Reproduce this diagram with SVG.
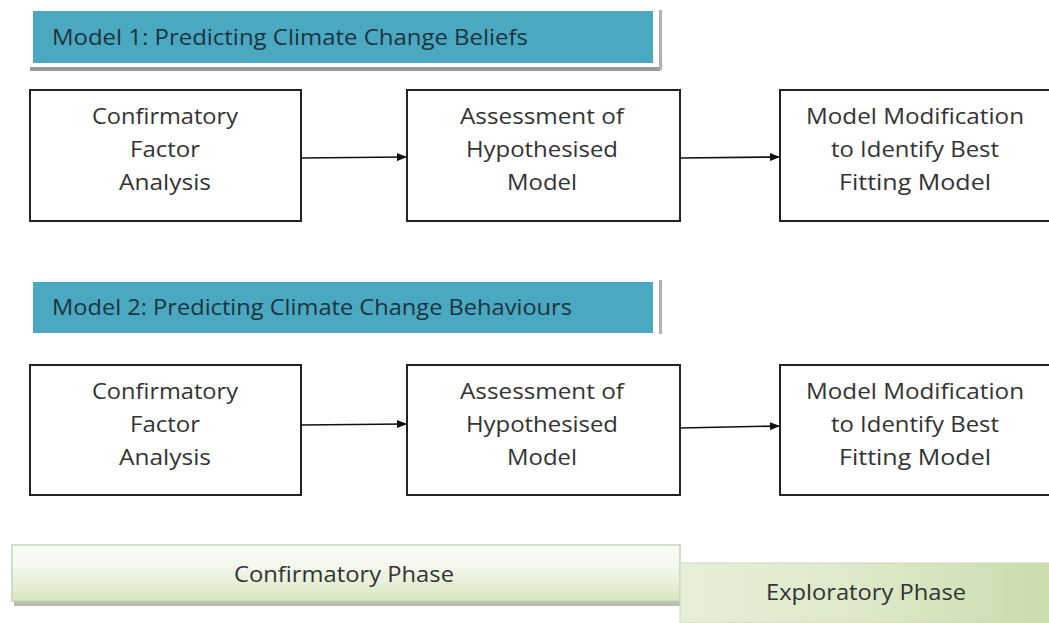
<svg xmlns="http://www.w3.org/2000/svg" width="1049" height="623" viewBox="0 0 1049 623">
<defs>
<style>
.t{font-family:"Open Sans","Liberation Sans",sans-serif;font-size:22px;fill:#333;text-anchor:middle}
.bt{font-family:"Open Sans","Liberation Sans",sans-serif;font-size:22px;fill:#1d3340}
.pt{font-family:"Open Sans","Liberation Sans",sans-serif;font-size:21px;fill:#333;text-anchor:middle}
.box{fill:#fff;stroke:#222;stroke-width:2}
.ban{fill:#4aa9c0}
.conn{stroke:#111;stroke-width:1.6;fill:none;marker-end:url(#ah)}
</style>
<marker id="ah" markerWidth="10" markerHeight="8" refX="9" refY="4" orient="auto" markerUnits="userSpaceOnUse">
<path d="M0,0 L10,4 L0,8 z" fill="#111"/>
</marker>
<linearGradient id="g1" x1="0" y1="0" x2="0" y2="1">
<stop offset="0" stop-color="#fbfdf8"/>
<stop offset="0.4" stop-color="#f3f7ec"/>
<stop offset="1" stop-color="#d7e6c0"/>
</linearGradient>
<linearGradient id="g2" x1="0" y1="0" x2="1" y2="0">
<stop offset="0" stop-color="#e6efd9"/>
<stop offset="0.5" stop-color="#dce9c9"/>
<stop offset="1" stop-color="#c9dcac"/>
</linearGradient>
</defs>
<rect width="1049" height="623" fill="#fff"/>
<g id="banner1">
<rect x="30" y="67" width="630" height="4" fill="#9a9a9a"/>
<rect x="659" y="10" width="3" height="60" fill="#b0b0b0"/>
<rect class="ban" x="33" y="11" width="620" height="52"/>
<text class="bt" x="52" y="45" textLength="476" lengthAdjust="spacingAndGlyphs">Model 1: Predicting Climate Change Beliefs</text>
</g>
<g id="banner2">
<rect x="659" y="280" width="3" height="54" fill="#b0b0b0"/>
<rect class="ban" x="33" y="282" width="620" height="51"/>
<text class="bt" x="52" y="315" textLength="520" lengthAdjust="spacingAndGlyphs">Model 2: Predicting Climate Change Behaviours</text>
</g>
<g id="n1">
<rect class="box" x="30" y="90" width="271" height="131"/>
<text class="t" x="165" y="124" textLength="146" lengthAdjust="spacingAndGlyphs">Confirmatory</text>
<text class="t" x="165" y="157" textLength="70" lengthAdjust="spacingAndGlyphs">Factor</text>
<text class="t" x="165" y="190" textLength="92" lengthAdjust="spacingAndGlyphs">Analysis</text>
</g>
<g id="n2">
<rect class="box" x="407" y="90" width="273" height="131"/>
<text class="t" x="542" y="124" textLength="164" lengthAdjust="spacingAndGlyphs">Assessment of</text>
<text class="t" x="542" y="157" textLength="152" lengthAdjust="spacingAndGlyphs">Hypothesised</text>
<text class="t" x="542" y="190" textLength="70" lengthAdjust="spacingAndGlyphs">Model</text>
</g>
<g id="n3">
<rect class="box" x="780" y="90" width="280" height="131"/>
<text class="t" x="915" y="124" textLength="218" lengthAdjust="spacingAndGlyphs">Model Modification</text>
<text class="t" x="915" y="157" textLength="168" lengthAdjust="spacingAndGlyphs">to Identify Best</text>
<text class="t" x="915" y="190" textLength="152" lengthAdjust="spacingAndGlyphs">Fitting Model</text>
</g>
<g id="n4">
<rect class="box" x="30" y="365" width="271" height="130"/>
<text class="t" x="165" y="399" textLength="146" lengthAdjust="spacingAndGlyphs">Confirmatory</text>
<text class="t" x="165" y="432" textLength="70" lengthAdjust="spacingAndGlyphs">Factor</text>
<text class="t" x="165" y="465" textLength="92" lengthAdjust="spacingAndGlyphs">Analysis</text>
</g>
<g id="n5">
<rect class="box" x="407" y="365" width="273" height="130"/>
<text class="t" x="542" y="399" textLength="164" lengthAdjust="spacingAndGlyphs">Assessment of</text>
<text class="t" x="542" y="432" textLength="152" lengthAdjust="spacingAndGlyphs">Hypothesised</text>
<text class="t" x="542" y="465" textLength="70" lengthAdjust="spacingAndGlyphs">Model</text>
</g>
<g id="n6">
<rect class="box" x="780" y="365" width="280" height="130"/>
<text class="t" x="915" y="399" textLength="218" lengthAdjust="spacingAndGlyphs">Model Modification</text>
<text class="t" x="915" y="432" textLength="168" lengthAdjust="spacingAndGlyphs">to Identify Best</text>
<text class="t" x="915" y="465" textLength="152" lengthAdjust="spacingAndGlyphs">Fitting Model</text>
</g>
<g id="phases">
<rect x="14" y="600" width="666" height="6" fill="#b8bfae"/>
<rect x="12" y="545" width="668" height="56" fill="url(#g1)" stroke="#c8d2b8" stroke-width="1.5"/>
<text class="pt" x="344" y="582" textLength="220" lengthAdjust="spacingAndGlyphs">Confirmatory Phase</text>
<rect x="680" y="563" width="369" height="60" fill="url(#g2)" stroke="#d0d8c0" stroke-width="1"/>
<text class="pt" x="866" y="600" textLength="200" lengthAdjust="spacingAndGlyphs">Exploratory Phase</text>
</g>
<g id="connectors">
<line class="conn" x1="301" y1="158" x2="406" y2="157"/>
<line class="conn" x1="680" y1="158" x2="779" y2="157"/>
<line class="conn" x1="301" y1="425" x2="406" y2="424"/>
<line class="conn" x1="680" y1="428" x2="779" y2="426"/>
</g>
</svg>
